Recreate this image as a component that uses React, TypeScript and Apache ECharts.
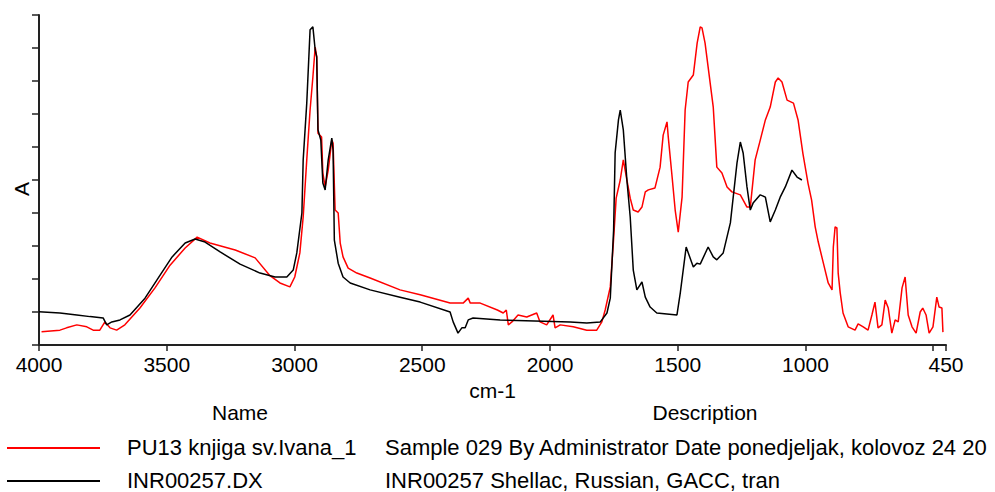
import React, { useEffect, useRef } from "react";
import * as echarts from "echarts";

// ---- data (wavenumber cm-1, absorbance a.u.) ----
const redWavenumbers = [
  3990, 3918, 3892, 3852, 3813, 3788, 3762, 3742, 3722, 3696, 3664, 3605, 3546, 3487, 3428, 3381, 3331, 3232, 3154, 3096,
  3057, 3018, 2999, 2979, 2966, 2952, 2939, 2928, 2919, 2913, 2908, 2894, 2889, 2880, 2868, 2854, 2849, 2841, 2829, 2821,
  2810, 2790, 2756, 2704, 2587, 2508, 2391, 2340, 2320, 2312, 2273, 2206, 2183, 2171, 2163, 2149, 2125, 2091, 2052, 2039,
  2013, 1988, 1980, 1960, 1909, 1856, 1817, 1797, 1784, 1764, 1752, 1741, 1725, 1713, 1699, 1686, 1674, 1655, 1640, 1627,
  1615, 1589, 1569, 1557, 1542, 1537, 1522, 1510, 1498, 1483, 1471, 1459, 1439, 1424, 1412, 1405, 1393, 1381, 1361, 1347,
  1327, 1307, 1288, 1255, 1229, 1216, 1197, 1177, 1157, 1138, 1118, 1107, 1092, 1072, 1047, 1029, 1010, 990, 976, 962,
  950, 930, 911, 896, 891, 884, 877, 872, 864, 853, 833, 806, 794, 774, 755, 740, 728, 716, 701, 688,
  676, 662, 649, 637, 622, 610, 598, 583, 567, 551, 541, 528, 516, 501, 486, 477, 466, 462,
];
const redAbsorbance = [
  0.040, 0.045, 0.052, 0.061, 0.055, 0.045, 0.045, 0.070, 0.052, 0.045, 0.061, 0.112, 0.173, 0.242, 0.294, 0.327, 0.309, 0.288, 0.264, 0.210,
  0.188, 0.176, 0.206, 0.279, 0.388, 0.561, 0.712, 0.812, 0.903, 0.873, 0.642, 0.630, 0.521, 0.479, 0.530, 0.621, 0.612, 0.409, 0.400, 0.309,
  0.267, 0.233, 0.218, 0.203, 0.167, 0.152, 0.127, 0.127, 0.142, 0.127, 0.127, 0.106, 0.097, 0.106, 0.061, 0.070, 0.091, 0.085, 0.097, 0.070,
  0.061, 0.091, 0.052, 0.061, 0.055, 0.045, 0.045, 0.070, 0.106, 0.176, 0.309, 0.445, 0.500, 0.561, 0.500, 0.445, 0.409, 0.403, 0.418, 0.464,
  0.470, 0.476, 0.539, 0.636, 0.676, 0.630, 0.509, 0.409, 0.342, 0.448, 0.712, 0.797, 0.818, 0.915, 0.964, 0.961, 0.915, 0.842, 0.721, 0.539,
  0.521, 0.479, 0.464, 0.455, 0.418, 0.418, 0.561, 0.621, 0.682, 0.721, 0.797, 0.809, 0.797, 0.742, 0.733, 0.682, 0.580, 0.490, 0.439, 0.358,
  0.312, 0.248, 0.188, 0.167, 0.297, 0.358, 0.355, 0.218, 0.158, 0.097, 0.055, 0.045, 0.064, 0.055, 0.045, 0.091, 0.130, 0.052, 0.061, 0.136,
  0.112, 0.036, 0.076, 0.070, 0.173, 0.206, 0.091, 0.055, 0.036, 0.100, 0.112, 0.091, 0.036, 0.055, 0.145, 0.115, 0.112, 0.039,
];

const blackWavenumbers = [
  4000, 3918, 3852, 3800, 3749, 3735, 3715, 3683, 3644, 3585, 3526, 3479, 3428, 3389, 3350, 3291, 3213, 3135, 3076, 3030,
  3005, 2991, 2971, 2966, 2952, 2939, 2928, 2919, 2913, 2908, 2897, 2889, 2880, 2868, 2854, 2849, 2844, 2829, 2810, 2782,
  2704, 2587, 2508, 2391, 2379, 2365, 2360, 2345, 2332, 2320, 2301, 2195, 1921, 1856, 1803, 1777, 1764, 1751, 1745, 1732,
  1725, 1713, 1699, 1686, 1674, 1660, 1640, 1627, 1608, 1582, 1503, 1490, 1467, 1439, 1425, 1412, 1381, 1361, 1347, 1322,
  1294, 1268, 1255, 1244, 1229, 1216, 1205, 1177, 1157, 1138, 1118, 1099, 1079, 1053, 1033, 1014,
];
const blackAbsorbance = [
  0.101, 0.097, 0.091, 0.086, 0.082, 0.061, 0.070, 0.076, 0.091, 0.142, 0.212, 0.267, 0.309, 0.321, 0.312, 0.282, 0.245, 0.218, 0.206, 0.206,
  0.227, 0.279, 0.400, 0.561, 0.733, 0.955, 0.964, 0.894, 0.873, 0.652, 0.621, 0.491, 0.470, 0.561, 0.627, 0.591, 0.318, 0.248, 0.206, 0.188,
  0.167, 0.145, 0.130, 0.100, 0.070, 0.045, 0.036, 0.052, 0.052, 0.076, 0.082, 0.076, 0.070, 0.067, 0.070, 0.097, 0.142, 0.348, 0.582, 0.682,
  0.712, 0.652, 0.500, 0.388, 0.227, 0.167, 0.191, 0.145, 0.115, 0.097, 0.091, 0.158, 0.297, 0.236, 0.248, 0.245, 0.297, 0.267, 0.258, 0.279,
  0.370, 0.552, 0.615, 0.582, 0.479, 0.409, 0.430, 0.455, 0.448, 0.373, 0.409, 0.448, 0.479, 0.530, 0.509, 0.500,
];

const xTickValues = [4000, 3500, 3000, 2500, 2000, 1500, 1000, 500, 450];
const xLabelValues = [4000, 3500, 3000, 2500, 2000, 1500, 1000, 450];

const seriesNames = ["PU13 knjiga sv.Ivana_1", "INR00257.DX"];
const seriesDescriptions = [
  "Sample 029 By Administrator Date ponedjeljak, kolovoz 24 20",
  "INR00257 Shellac, Russian, GACC, tran",
];
const seriesColors = ["#ff0000", "#000000"];

const FONT = "'Liberation Sans', Arial, sans-serif";

export default function App() {
  const ref = useRef<HTMLDivElement>(null);
  useEffect(() => {
    if (!ref.current) return;
    const chart = echarts.init(ref.current, undefined, { renderer: "svg" });
    const red = redWavenumbers.map((w, i) => [w, redAbsorbance[i]]);
    const black = blackWavenumbers.map((w, i) => [w, blackAbsorbance[i]]);

    const legendRows: any[] = [];
    const rowY = [447, 480];
    seriesNames.forEach((name, i) => {
      legendRows.push({
        type: "line",
        shape: { x1: 7, y1: rowY[i] + 1, x2: 100, y2: rowY[i] + 1 },
        style: { stroke: seriesColors[i], lineWidth: 2 },
      });
      legendRows.push({
        type: "text",
        x: 127,
        y: rowY[i],
        style: { text: name, font: `22px ${FONT}`, fill: "#000", textAlign: "left", textVerticalAlign: "middle" },
      });
      legendRows.push({
        type: "text",
        x: 385,
        y: rowY[i],
        style: { text: seriesDescriptions[i], font: `22px ${FONT}`, fill: "#000", textAlign: "left", textVerticalAlign: "middle" },
      });
    });

    chart.setOption({
      animation: false,
      backgroundColor: "#ffffff",
      grid: { left: 39, right: 49, top: 15, bottom: 147, containLabel: false },
      xAxis: {
        type: "value",
        min: 450,
        max: 4000,
        inverse: true,
        name: "cm-1",
        nameLocation: "middle",
        nameGap: 26,
        nameTextStyle: { fontFamily: FONT, fontSize: 21, color: "#000" },
        axisLine: { show: true, onZero: false, lineStyle: { color: "#222", width: 2 } },
        axisTick: { show: true, length: 6, customValues: xTickValues, lineStyle: { color: "#222", width: 1.5 } },
        axisLabel: {
          show: true,
          customValues: xLabelValues,
          margin: 9,
          fontFamily: FONT,
          fontSize: 21,
          color: "#000",
          formatter: (v: number) => String(v),
        },
        splitLine: { show: false },
      },
      yAxis: {
        type: "value",
        min: 0,
        max: 1,
        interval: 0.1,
        axisLine: { show: true, onZero: false, lineStyle: { color: "#222", width: 2 } },
        axisTick: { show: true, length: 7, lineStyle: { color: "#222", width: 1.5 } },
        axisLabel: { show: false },
        splitLine: { show: false },
      },
      series: [
        {
          name: seriesNames[0],
          type: "line",
          data: red,
          showSymbol: false,
          symbol: "none",
          lineStyle: { color: seriesColors[0], width: 1.5 },
          z: 2,
        },
        {
          name: seriesNames[1],
          type: "line",
          data: black,
          showSymbol: false,
          symbol: "none",
          lineStyle: { color: seriesColors[1], width: 1.5 },
          z: 3,
        },
      ],
      graphic: [
        {
          type: "text",
          x: 21,
          y: 189,
          rotation: Math.PI / 2,
          style: { text: "A", font: `21px ${FONT}`, fill: "#000", textAlign: "center", textVerticalAlign: "middle" },
        },
        {
          type: "text",
          x: 240,
          y: 412,
          style: { text: "Name", font: `21px ${FONT}`, fill: "#000", textAlign: "center", textVerticalAlign: "middle" },
        },
        {
          type: "text",
          x: 705,
          y: 412,
          style: { text: "Description", font: `21px ${FONT}`, fill: "#000", textAlign: "center", textVerticalAlign: "middle" },
        },
        ...legendRows,
      ],
    });
    return () => chart.dispose();
  }, []);
  return (
    <div
      ref={ref}
      style={{ position: "fixed", left: 0, top: 0, width: 995, height: 492, background: "#fff" }}
    />
  );
}
